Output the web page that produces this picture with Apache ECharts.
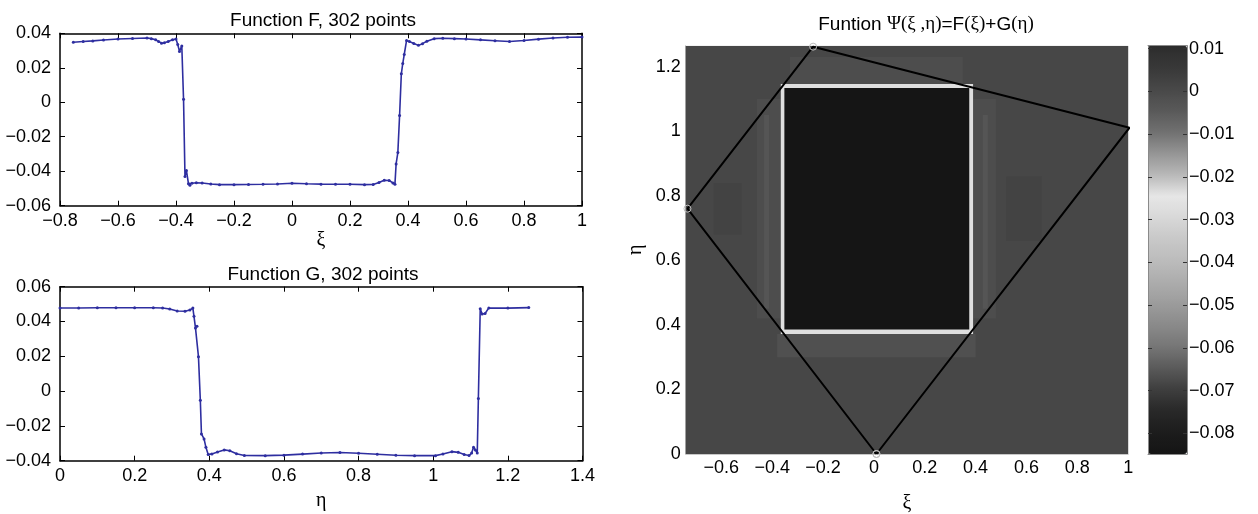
<!DOCTYPE html>
<html><head><meta charset="utf-8">
<script src="https://cdn.jsdelivr.net/npm/echarts@6/dist/echarts.min.js"></script>
<style>html,body{margin:0;padding:0;background:#fff}#c{width:1258px;height:514px}</style>
</head><body><div id="c"></div>
<script>
// ---- Function F(xi) ----
const fXi = [-0.754,-0.72,-0.687,-0.65,-0.6,-0.55,-0.5,-0.485,-0.47,-0.46,-0.45,-0.44,-0.427,-0.412,-0.4,-0.394,-0.388,-0.38,-0.374,-0.369,-0.364,-0.357,-0.352,-0.345,-0.33,-0.31,-0.28,-0.25,-0.2,-0.15,-0.1,-0.05,0.0,0.05,0.1,0.15,0.2,0.25,0.28,0.3,0.318,0.335,0.348,0.355,0.359,0.365,0.371,0.377,0.382,0.387,0.395,0.405,0.42,0.436,0.45,0.465,0.49,0.52,0.56,0.6,0.65,0.7,0.75,0.8,0.85,0.9,0.95,1.0];
const fVal = [0.0348,0.0352,0.0356,0.0361,0.0367,0.037,0.0373,0.0369,0.0362,0.0352,0.0343,0.0345,0.0352,0.0362,0.0367,0.0335,0.0295,0.0327,0.0018,-0.043,-0.0396,-0.0472,-0.0481,-0.047,-0.0467,-0.0468,-0.0474,-0.0478,-0.0478,-0.0477,-0.0476,-0.0474,-0.047,-0.0473,-0.0475,-0.0476,-0.0476,-0.0478,-0.0477,-0.0465,-0.0452,-0.0454,-0.0468,-0.0475,-0.0358,-0.0292,-0.0077,0.0165,0.0225,0.0277,0.0358,0.0352,0.0341,0.033,0.034,0.0354,0.0369,0.0371,0.0369,0.0367,0.0362,0.0357,0.0352,0.0358,0.0366,0.0373,0.0377,0.0378];
// ---- Function G(eta) ----
const gEta = [0,0.05,0.1,0.15,0.2,0.25,0.275,0.294,0.314,0.335,0.348,0.356,0.359,0.363,0.367,0.371,0.376,0.379,0.386,0.391,0.397,0.407,0.422,0.44,0.455,0.473,0.494,0.55,0.6,0.65,0.7,0.75,0.8,0.85,0.9,0.95,1.006,1.026,1.05,1.067,1.083,1.096,1.103,1.108,1.113,1.118,1.121,1.126,1.131,1.139,1.149,1.2,1.256];
const gVal = [0.0478,0.0478,0.0479,0.0479,0.0479,0.0479,0.0478,0.0472,0.046,0.0459,0.0466,0.0477,0.043,0.0363,0.0372,0.0198,-0.0053,-0.0246,-0.0275,-0.0323,-0.0364,-0.0361,-0.035,-0.0338,-0.0343,-0.036,-0.037,-0.0371,-0.0368,-0.0362,-0.0356,-0.0353,-0.0357,-0.0363,-0.0369,-0.0371,-0.0371,-0.0362,-0.0348,-0.0352,-0.0364,-0.037,-0.0356,-0.0323,-0.0338,-0.0356,-0.0043,0.0473,0.0443,0.0446,0.0478,0.0477,0.048];
// ---- Psi map: cells [xi0, xi1, eta0, eta1, value] ----
const heatCells = [
  [-0.74, 1.0, 0, 1.265, 0.001],
  [-0.63, -0.52, 0.68, 0.84, 0.0022],
  [0.52, 0.66, 0.66, 0.86, 0.0022],
  [-0.46, -0.364, 0.42, 1.10, -0.0008],
  [-0.432, -0.412, 0.45, 1.05, -0.0035],
  [0.39, 0.48, 0.42, 1.10, -0.0008],
  [0.428, 0.448, 0.45, 1.05, -0.0035],
  [-0.38, 0.40, 0.30, 0.372, -0.002],
  [-0.33, 0.35, 1.146, 1.23, -0.001],
  [-0.366, 0.39, 0.372, 1.146, -0.027],
  [-0.352, 0.375, 0.386, 1.134, -0.0845]
];
const polyXi = [0.01, -0.733, -0.239, 1.005, 0.01];
const polyEta = [0, 0.76, 1.262, 1.011, 0];
// ---- colour scale ----
const cbMin = -0.0848, cbMax = 0.0107;
const cbTicks = [0.01, 0, -0.01, -0.02, -0.03, -0.04, -0.05, -0.06, -0.07, -0.08];
const grayLevels = ['#151515','#1c1c1c','#282828','#3e3e3e','#5a5a5a','#767676','#8a8a8a','#9c9c9c','#acacac','#bcbcbc','#c8c8c8','#d8d8d8','#e6e6e6','#b8b8b8','#949494','#707070','#585858','#484848','#383838','#2c2c2c'];
const heatXTicks = [-0.6, -0.4, -0.2, 0, 0.2, 0.4, 0.6, 0.8, 1];
const heatYTicks = [0, 0.2, 0.4, 0.6, 0.8, 1, 1.2];

const fmt = v => (Math.round(v * 10000) / 10000).toString().replace('-', '\u2212');
const FONT = 'Liberation Sans';
const SERIF = 'Liberation Serif';
const TICK_FS = 18, TITLE_FS = 19;
const lab = { color: '#000', fontFamily: FONT, fontSize: TICK_FS, formatter: fmt };

function boxAxes(gi, min, max, interval, isX, name, nameGap) {
  const main = {
    gridIndex: gi, type: 'value', min, max, interval,
    position: isX ? 'bottom' : 'left',
    axisLine: { show: true, onZero: false, lineStyle: { color: '#000', width: 1.5 } },
    axisTick: { show: true, inside: true, length: 5, lineStyle: { color: '#000' } },
    axisLabel: Object.assign({ margin: isX ? 6 : 9 }, lab),
    splitLine: { show: false }
  };
  if (name) {
    main.name = name; main.nameLocation = 'middle'; main.nameGap = nameGap;
    main.nameTextStyle = { fontFamily: SERIF, fontSize: 20, color: '#000' };
  }
  const mirror = {
    gridIndex: gi, type: 'value', min, max, interval,
    position: isX ? 'top' : 'right',
    axisLine: { show: true, onZero: false, lineStyle: { color: '#000', width: 1.5 } },
    axisTick: { show: true, inside: true, length: 5, lineStyle: { color: '#000' } },
    axisLabel: { show: false }, splitLine: { show: false }
  };
  return [main, mirror];
}

const fAx = boxAxes(0, -0.8, 1, 0.2, true, '\u03be', 10);
const fAy = boxAxes(0, -0.06, 0.04, 0.02, false);
const gAx = boxAxes(1, 0, 1.4, 0.2, true, '\u03b7', 30);
const gAy = boxAxes(1, -0.04, 0.06, 0.02, false);

const heatX = {
  gridIndex: 2, type: 'value', min: -0.74, max: 1.0, position: 'bottom',
  axisLine: { show: true, onZero: false, lineStyle: { color: '#c8c8c8', width: 1 } },
  axisTick: { show: false },
  axisLabel: Object.assign({ margin: 5, customValues: heatXTicks }, lab),
  splitLine: { show: false },
  name: '\u03be', nameLocation: 'middle', nameGap: 40,
  nameTextStyle: { fontFamily: SERIF, fontSize: 20, color: '#000' }
};
const heatY = {
  gridIndex: 2, type: 'value', min: 0, max: 1.265, position: 'left',
  axisLine: { show: true, onZero: false, lineStyle: { color: '#c8c8c8', width: 1 } },
  axisTick: { show: false },
  axisLabel: Object.assign({ margin: 5, customValues: heatYTicks }, lab),
  splitLine: { show: false },
  name: '\u03b7', nameLocation: 'middle', nameGap: 40, nameRotate: 90,
  nameTextStyle: { fontFamily: SERIF, fontSize: 20, color: '#000' }
};
const cbLine = { show: true, onZero: false, lineStyle: { color: '#8a8a8a', width: 1 } };
const cbTick = { show: true, inside: true, length: 4, customValues: cbTicks, lineStyle: { color: '#333' } };
const cbX1 = { gridIndex: 3, type: 'value', min: 0, max: 1, position: 'bottom', z: 10, axisLine: cbLine, axisTick: { show: false }, axisLabel: { show: false }, splitLine: { show: false } };
const cbX2 = Object.assign({}, cbX1, { position: 'top' });
const cbY1 = { gridIndex: 3, type: 'value', min: cbMin, max: cbMax, position: 'right', z: 10, axisLine: cbLine, axisTick: cbTick,
  axisLabel: Object.assign({ margin: 2, customValues: cbTicks }, lab), splitLine: { show: false } };
const cbY2 = { gridIndex: 3, type: 'value', min: cbMin, max: cbMax, position: 'left', z: 10, axisLine: cbLine, axisTick: cbTick,
  axisLabel: { show: false }, splitLine: { show: false } };

const lineColor = '#2e2ea0';
const titleStyle = { fontFamily: FONT, fontSize: TITLE_FS, fontWeight: 'normal', color: '#000' };
const option = {
  animation: false,
  backgroundColor: '#fff',
  title: [
    { text: 'Function F, 302 points', left: 318, top: 6, textAlign: 'center', textStyle: titleStyle },
    { text: 'Function G, 302 points', left: 318, top: 260, textAlign: 'center', textStyle: titleStyle },
    { text: 'Funtion {s|\u03a8(\u03be ,\u03b7)}=F{s|(\u03be)}+G{s|(\u03b7)}', left: 921, top: 10, textAlign: 'center',
      textStyle: Object.assign({ rich: { s: { fontFamily: SERIF, fontSize: TITLE_FS, color: '#000' } } }, titleStyle) }
  ],
  grid: [
    { left: 60, top: 33.3, width: 522, height: 172.4, outerBoundsMode: 'none' },
    { left: 60, top: 286.7, width: 522.5, height: 174, outerBoundsMode: 'none' },
    { left: 685.7, top: 45.7, width: 442.5, height: 408.3, outerBoundsMode: 'none' },
    { left: 1148, top: 45.7, width: 39, height: 408.3, outerBoundsMode: 'none' }
  ],
  xAxis: [fAx[0], fAx[1], gAx[0], gAx[1], heatX, cbX1, cbX2],
  yAxis: [fAy[0], fAy[1], gAy[0], gAy[1], heatY, cbY1, cbY2],
  visualMap: {
    type: 'continuous', show: true, seriesIndex: [2], dimension: 4,
    min: cbMin, max: cbMax, calculable: false, realtime: false,
    left: 1148, top: 45.7, itemWidth: 39, itemHeight: 408.3, padding: 0,
    text: null, showLabel: false, hoverLink: false,
    inRange: { color: grayLevels }
  },
  series: [
    { type: 'line', xAxisIndex: 0, yAxisIndex: 0, data: fXi.map((x, i) => [x, fVal[i]]),
      symbol: 'circle', symbolSize: 3, showSymbol: true,
      lineStyle: { color: lineColor, width: 1.6 }, itemStyle: { color: lineColor } },
    { type: 'line', xAxisIndex: 2, yAxisIndex: 2, data: gEta.map((x, i) => [x, gVal[i]]),
      symbol: 'circle', symbolSize: 3, showSymbol: true,
      lineStyle: { color: lineColor, width: 1.6 }, itemStyle: { color: lineColor } },
    { type: 'custom', xAxisIndex: 4, yAxisIndex: 4, data: heatCells, clip: true,
      encode: { x: [0, 1], y: [2, 3] },
      renderItem: function (params, api) {
        const p0 = api.coord([api.value(0), api.value(2)]);
        const p1 = api.coord([api.value(1), api.value(3)]);
        return { type: 'rect',
          shape: { x: p0[0], y: p1[1], width: p1[0] - p0[0], height: p0[1] - p1[1] },
          style: { fill: api.visual('color') } };
      } },
    { type: 'line', xAxisIndex: 4, yAxisIndex: 4, z: 5, data: polyXi.map((x, i) => [x, polyEta[i]]),
      symbol: 'circle', symbolSize: 7, showSymbol: true,
      lineStyle: { color: '#000', width: 2 },
      itemStyle: { color: 'rgba(0,0,0,0)', borderColor: '#bdbdbd', borderWidth: 1 } }
  ]
};
const chart = echarts.init(document.getElementById('c'), null, { renderer: 'canvas' });
chart.setOption(option);
</script></body></html>
